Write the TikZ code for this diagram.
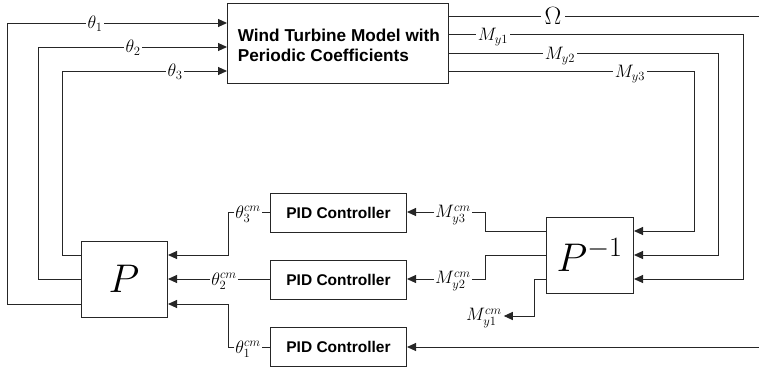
\RequirePackage{fix-cm}
\documentclass[tikz,border=0pt]{standalone}
\usepackage{fontspec}
\setsansfont{Liberation Sans}
\usetikzlibrary{arrows.meta}
\begin{document}
\begin{tikzpicture}[x=1pt,y=-1pt,
  line width=1pt, draw=black!85,
  blk/.style={draw=black!85, line width=1pt, inner sep=0pt, anchor=north west},
  boxtxt/.style={font=\sffamily\bfseries\fontsize{15.5}{20}\selectfont},
  lab/.style={fill=white, inner sep=1.5pt, font=\fontsize{18}{20}\selectfont},
  arr/.style={-{Triangle[length=9pt,width=8pt]}}]
\useasboundingbox (0,0) rectangle (759,367);
% boxes
\node[blk, minimum width=221pt, minimum height=80pt] (wt) at (227,3) {};
\node[font=\sffamily\bfseries\fontsize{17.2}{20}\selectfont, align=left, anchor=west] (wttxt) at (234,45) {Wind Turbine Model with\\Periodic Coefficients};
\node[blk, minimum width=86pt, minimum height=76pt] (P) at (81,241) {};
\node[font=\fontsize{40}{42}\selectfont] (Ptxt) at (124,279) {$P$};
\node[blk, minimum width=87pt, minimum height=76pt] (Pi) at (546,217) {};
\node[font=\fontsize{40}{42}\selectfont] (Pitxt) at (589.5,255) {$P^{-1}$};
\node[blk, minimum width=136pt, minimum height=39pt] (pid1) at (270,193) {};
\node[boxtxt] (pid1t) at (pid1.center) {PID Controller};
\node[blk, minimum width=136pt, minimum height=39pt] (pid2) at (270,260) {};
\node[boxtxt] (pid2t) at (pid2.center) {PID Controller};
\node[blk, minimum width=136pt, minimum height=39pt] (pid3) at (270,327) {};
\node[boxtxt] (pid3t) at (pid3.center) {PID Controller};
% theta inputs to turbine
\coordinate (a1) at (7,304); \coordinate (a2) at (7,23);
\coordinate (b1) at (38,279); \coordinate (b2) at (38,47);
\coordinate (c1) at (62,255); \coordinate (c2) at (62,71);
\draw[arr] (P.west |- a1) -- (a1) -- (a2) -- (wt.west |- a2);
\draw[arr] (P.west |- b1) -- (b1) -- (b2) -- (wt.west |- b2);
\draw[arr] (P.west |- c1) -- (c1) -- (c2) -- (wt.west |- c2);
\node[lab] (t1) at (95,24) {$\theta_1$};
\node[lab] (t2) at (133,48) {$\theta_2$};
\node[lab] (t3) at (175,72) {$\theta_3$};
% turbine outputs
\coordinate (om) at (759,16);
\draw (wt.east |- om) -- (om);
\node[lab, inner sep=4pt, font=\fontsize{25}{27}\selectfont] (omL) at (553,16) {$\Omega$};
\coordinate (m1a) at (743,34); \coordinate (m1b) at (743,279);
\coordinate (m2a) at (718,53); \coordinate (m2b) at (718,255);
\coordinate (m3a) at (694,71); \coordinate (m3b) at (694,231);
\draw[arr] (wt.east |- m1a) -- (m1a) -- (m1b) -- (Pi.east |- m1b);
\draw[arr] (wt.east |- m2a) -- (m2a) -- (m2b) -- (Pi.east |- m2b);
\draw[arr] (wt.east |- m3a) -- (m3a) -- (m3b) -- (Pi.east |- m3b);
\node[lab] (m1L) at (493,37) {$M_{y1}$};
\node[lab] (m2L) at (560,56) {$M_{y2}$};
\node[lab] (m3L) at (630,74) {$M_{y3}$};
% P^-1 outputs
\node[lab, inner sep=0.5pt] (mc3) at (453,215) {$M_{y3}^{cm}$};
\node[lab, inner sep=0.5pt] (mc2) at (453,281) {$M_{y2}^{cm}$};
\node[lab, fill=none] (mc1) at (484,318) {$M_{y1}^{cm}$};
\coordinate (p3a) at (485,231); \coordinate (p3b) at (485,212);
\coordinate (p2a) at (485,255); \coordinate (p2b) at (485,279);
\coordinate (p1a) at (534,279); \coordinate (p1b) at (534,316);
\draw (Pi.west |- p3a) -- (p3a) -- (p3b) -- (mc3.east |- p3b);
\draw (Pi.west |- p2a) -- (p2a) -- (p2b) -- (mc2.east |- p2b);
\draw[arr] (Pi.west |- p1a) -- (p1a) -- (p1b) -- (mc1.east |- p1b);
\draw[arr] (mc3.west |- p3b) -- (pid1.east |- p3b);
\draw[arr] (mc2.west |- p2b) -- (pid2.east |- p2b);
\coordinate (in3) at (759,347);
\draw[arr] (in3) -- (pid3.east |- in3);
% PID outputs to P
\node[lab, inner sep=0.5pt] (tc3) at (248,214) {$\theta_3^{cm}$};
\node[lab, inner sep=0.5pt] (tc2) at (224,281) {$\theta_2^{cm}$};
\node[lab, inner sep=0.5pt] (tc1) at (248,349) {$\theta_1^{cm}$};
\coordinate (q3a) at (228,212); \coordinate (q3b) at (228,255);
\coordinate (q2) at (228,279);
\coordinate (q1a) at (228,347); \coordinate (q1b) at (228,304);
\draw (pid1.west |- q3a) -- (tc3.east |- q3a);
\draw[arr] (tc3.west |- q3a) -- (q3a) -- (q3b) -- (P.east |- q3b);
\draw (pid2.west |- q2) -- (tc2.east |- q2);
\draw[arr] (tc2.west |- q2) -- (P.east |- q2);
\draw (pid3.west |- q1a) -- (tc1.east |- q1a);
\draw[arr] (tc1.west |- q1a) -- (q1a) -- (q1b) -- (P.east |- q1b);
\end{tikzpicture}
\end{document}
